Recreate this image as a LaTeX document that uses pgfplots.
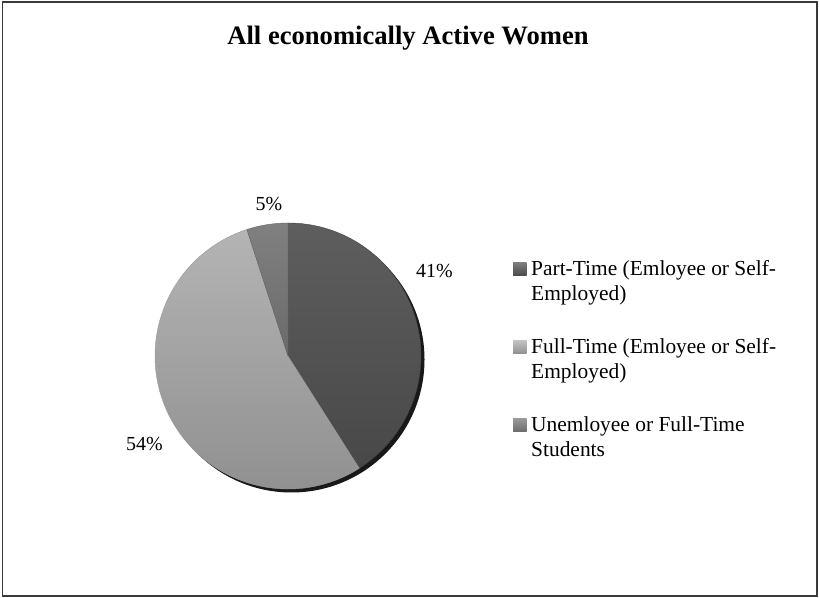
\documentclass[border=0pt]{standalone}
\usepackage{fontspec}
\setmainfont{Liberation Serif}
\usepackage{pgfplots}
\usepackage{pgfplotstable}
\pgfplotsset{compat=1.18}
\pgfplotstableread{
label value
PartTime 41
FullTime 54
Unemployed 5
}\piedata
\definecolor{darkT}{HTML}{5E5E5E}
\definecolor{darkB}{HTML}{484848}
\definecolor{lightT}{HTML}{B4B4B4}
\definecolor{lightB}{HTML}{8E8E8E}
\definecolor{midT}{HTML}{808080}
\definecolor{midB}{HTML}{6A6A6A}
\definecolor{frame}{HTML}{3A3A3A}
\begin{document}
\begin{tikzpicture}
\pgfplotstablegetelem{0}{value}\of\piedata \let\va\pgfplotsretval
\pgfplotstablegetelem{1}{value}\of\piedata \let\vb\pgfplotsretval
\pgfplotstablegetelem{2}{value}\of\piedata \let\vc\pgfplotsretval
\pgfmathsetmacro\aA{90}
\pgfmathsetmacro\aB{90-3.6*\va}
\pgfmathsetmacro\aC{\aB-3.6*\vb}
\pgfmathsetmacro\aD{\aC-3.6*\vc}
\begin{axis}[x=1bp, y=1bp, xmin=0, xmax=819, ymin=0, ymax=598,
  hide axis, clip=false, scale only axis]
\fill[white] (axis cs:0,0) rectangle (axis cs:819,598);
\draw[line width=1.6bp, frame] (axis cs:2.5,2) rectangle (axis cs:817,596);
% title
\node[anchor=base, font=\fontsize{26.7}{30}\selectfont\bfseries] at (axis cs:408,553) {All economically Active Women};
% shadow
\fill[black!90] (axis cs:291.5,238.5) circle[radius=133bp];
% wedges
\shade[top color=darkT, bottom color=darkB, draw=black!75, line width=0.4bp]
  (axis cs:288,242) -- ++(\aA:133bp) arc[start angle=\aA, end angle=\aB, radius=133bp] -- cycle;
\shade[top color=lightT, bottom color=lightB, draw=black!40, line width=0.4bp]
  (axis cs:288,242) -- ++(\aB:133bp) arc[start angle=\aB, end angle=\aC, radius=133bp] -- cycle;
\shade[top color=midT, bottom color=midB, draw=black!60, line width=0.4bp]
  (axis cs:288,242) -- ++(\aC:133bp) arc[start angle=\aC, end angle=\aD, radius=133bp] -- cycle;
% percentage labels
\node[anchor=base, font=\fontsize{20}{24}\selectfont] at (axis cs:434.5,320) {\va\%};
\node[anchor=base, font=\fontsize{20}{24}\selectfont] at (axis cs:144.5,147) {\vb\%};
\node[anchor=base, font=\fontsize{20}{24}\selectfont] at (axis cs:269,387) {\vc\%};
% legend
\shade[top color=darkT!80!white, bottom color=darkB] (axis cs:513,322) rectangle (axis cs:526.5,335.5);
\node[anchor=base west, inner sep=0pt, font=\fontsize{21.5}{25}\selectfont] at (axis cs:531,322) {Part-Time (Emloyee or Self-};
\node[anchor=base west, inner sep=0pt, font=\fontsize{21.5}{25}\selectfont] at (axis cs:531,297) {Employed)};
\shade[top color=lightT!80!white, bottom color=lightB] (axis cs:513,244) rectangle (axis cs:526.5,257.5);
\node[anchor=base west, inner sep=0pt, font=\fontsize{21.5}{25}\selectfont] at (axis cs:531,244) {Full-Time (Emloyee or Self-};
\node[anchor=base west, inner sep=0pt, font=\fontsize{21.5}{25}\selectfont] at (axis cs:531,219) {Employed)};
\shade[top color=midT!80!white, bottom color=midB] (axis cs:513,166) rectangle (axis cs:526.5,179.5);
\node[anchor=base west, inner sep=0pt, font=\fontsize{21.5}{25}\selectfont] at (axis cs:531,166) {Unemloyee or Full-Time};
\node[anchor=base west, inner sep=0pt, font=\fontsize{21.5}{25}\selectfont] at (axis cs:531,141) {Students};
\end{axis}
\end{tikzpicture}
\end{document}
